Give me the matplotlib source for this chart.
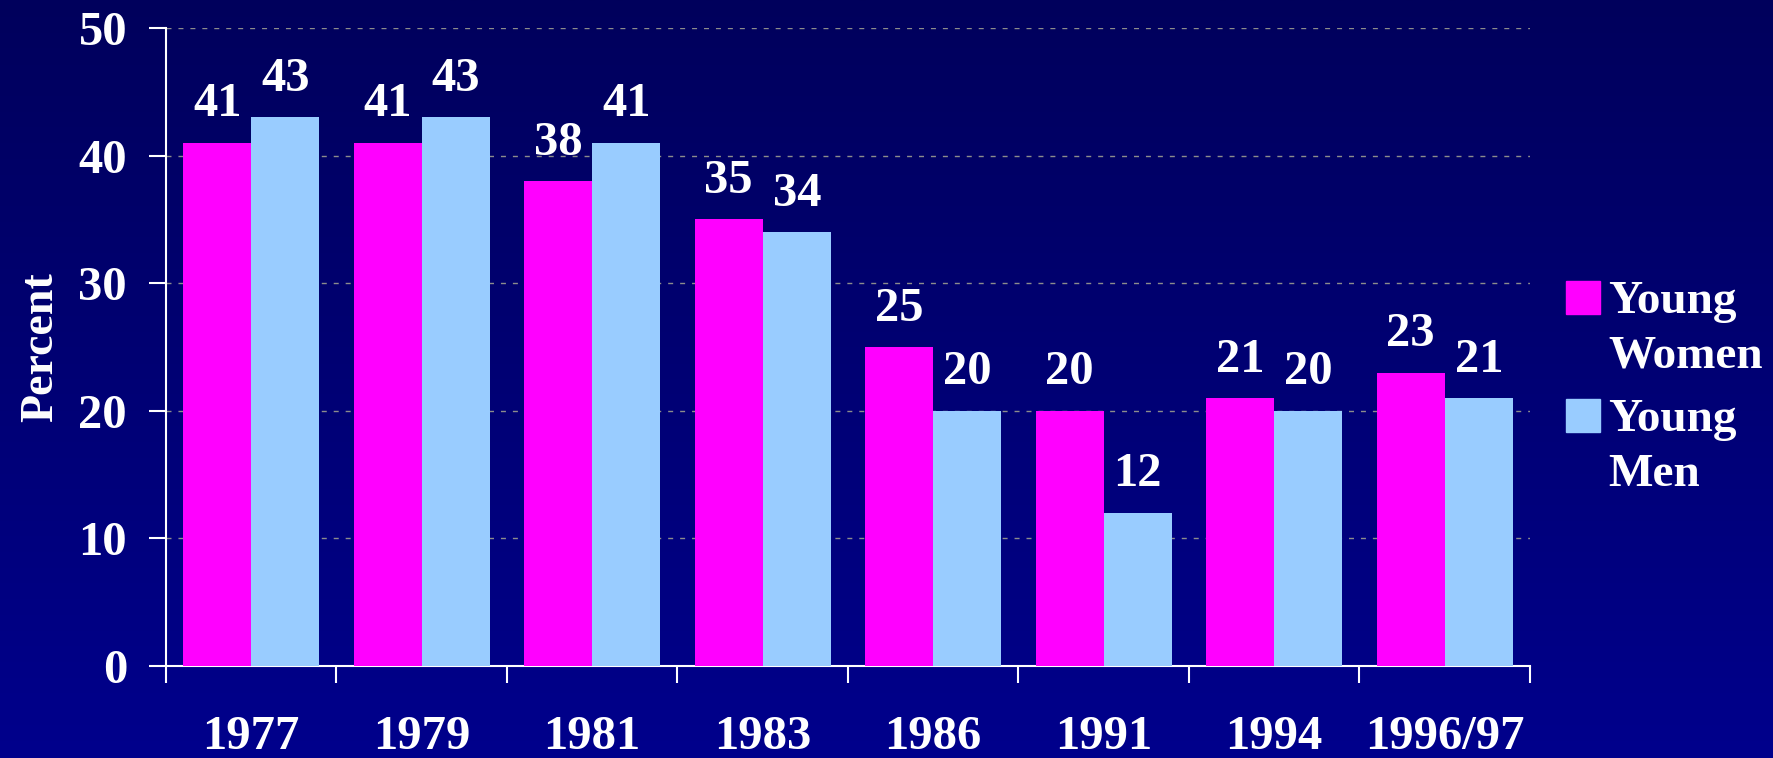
import numpy as np
import matplotlib
matplotlib.use("Agg")
from matplotlib import pyplot as plt
from matplotlib.patches import Rectangle

# data
years = ['1977', '1979', '1981', '1983', '1986', '1991', '1994', '1996/97']
women = [41, 41, 38, 35, 25, 20, 21, 23]
men = [43, 43, 41, 34, 20, 12, 20, 21]
series_names = ['Young\nWomen', 'Young\nMen']
pink = '#FF00FF'
blue = '#99CCFF'

plt.rcParams['font.family'] = ['Liberation Serif', 'DejaVu Serif']
plt.rcParams['font.weight'] = 'bold'
fs = 35

fig = plt.figure(figsize=(17.74, 7.58), dpi=100)

# background gradient, dark navy at top, lighter at bottom
bg = fig.add_axes([0, 0, 1, 1], zorder=-10)
grad = np.linspace(0, 1, 256).reshape(-1, 1)
top_c = np.array([0x00, 0x00, 0x5C]) / 255
bot_c = np.array([0x00, 0x00, 0x8C]) / 255
img = top_c + grad[..., None] * (bot_c - top_c)
bg.imshow(img, aspect='auto', extent=[0, 1, 0, 1], origin='upper')
bg.axis('off')

ax = fig.add_axes([166 / 1774, 1 - 666 / 758, (1530 - 166) / 1774, (666 - 28) / 758])
ax.set_facecolor('none')

x = np.arange(len(years))
w = 0.4
b1 = ax.bar(x - w / 2, women, w, color=pink, zorder=3)
b2 = ax.bar(x + w / 2, men, w, color=blue, zorder=3)

# value labels above the bars
for bars, vals in ((b1, women), (b2, men)):
    for rect, v in zip(bars, vals):
        ax.annotate(str(v), (rect.get_x() + rect.get_width() / 2, v),
                    xytext=(0, 19), textcoords='offset points',
                    ha='center', va='baseline', color='white',
                    fontsize=fs, fontweight='bold')

ax.set_xlim(-0.5, len(years) - 0.5)
ax.set_ylim(0, 50)
ax.set_yticks(range(0, 51, 10))
ax.set_xticks(x)
ax.set_xticklabels(years)
ax.set_xticks(np.arange(-0.5, len(years), 1), minor=True)
ax.tick_params(axis='x', which='major', length=0, pad=35, labelsize=fs, labelcolor='white')
ax.tick_params(axis='x', which='minor', length=12, width=1.5, color='white')
ax.tick_params(axis='y', length=12, width=1.5, color='white', pad=16,
               labelsize=fs, labelcolor='white')

for gy in range(10, 51, 10):
    ax.axhline(gy, color='#8C8C8C', lw=1.0, dashes=(3.6, 5), zorder=1)

for s in ('top', 'right'):
    ax.spines[s].set_visible(False)
for s in ('left', 'bottom'):
    ax.spines[s].set_color('white')
    ax.spines[s].set_linewidth(1.5)

ax.set_ylabel('Percent', color='white', fontsize=33, fontweight='bold')
ax.yaxis.set_label_coords(-0.076, 0.5)

# legend drawn by hand: square + two text lines per entry
leg_colors = [pink, blue]
sq_tops = [281, 399]
for name, col, top in zip(series_names, leg_colors, sq_tops):
    fig.add_artist(Rectangle((1566 / 1774, 1 - (top + 33) / 758), 34 / 1774, 33 / 758,
                             transform=fig.transFigure, color=col))
    for i, line in enumerate(name.split('\n')):
        base = top + 32 + i * 55
        fig.text(1608 / 1774, 1 - base / 758, line, color='white', fontsize=34,
                 fontweight='bold', va='baseline', ha='left')

fig.savefig('out.png', dpi=100)
